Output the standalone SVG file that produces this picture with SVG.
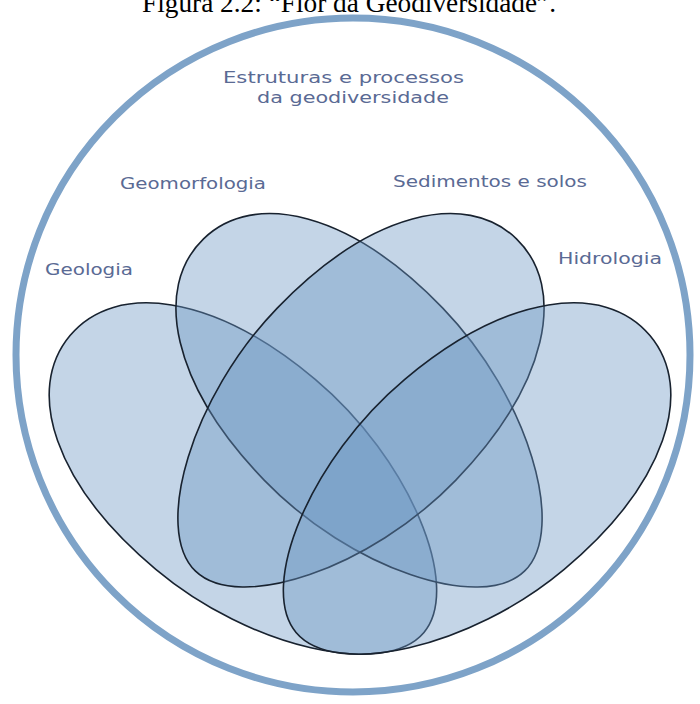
<svg xmlns="http://www.w3.org/2000/svg" xmlns:xlink="http://www.w3.org/1999/xlink" width="700" height="704" viewBox="0 0 700 704">
  <style>
    .petal { fill: #6b97c4; fill-opacity: 0.4; stroke: #18222f; stroke-width: 1.6; }
    .lbl { font-family: "DejaVu Sans", Verdana, sans-serif; font-size: 15px; fill: #5a6a94; }
    .title { font-family: "Liberation Serif", "Times New Roman", serif; font-size: 27px; fill: #000; }
  </style>
  <defs>
    <path id="egg" d="M -231,0 C -231,-71 -148,-124 -15,-124 C 108,-124 231,-60 231,0 C 231,60 108,124 -15,124 C -148,124 -231,71 -231,0 Z"/>
  </defs>
  <rect width="700" height="704" fill="#ffffff"/>
  <g id="ring">
    <circle cx="353" cy="355" r="337" fill="none" stroke="#7ea3c8" stroke-width="7"/>
  </g>
  <g id="title">
    <text class="title" x="142" y="12" textLength="414" lengthAdjust="spacingAndGlyphs">Figura 2.2: “Flor da Geodiversidade”.</text>
  </g>
  <g id="heading">
    <text class="lbl" x="223" y="83" textLength="241" lengthAdjust="spacingAndGlyphs">Estruturas e processos</text>
    <text class="lbl" x="257" y="103" textLength="192" lengthAdjust="spacingAndGlyphs">da geodiversidade</text>
  </g>
  <g id="geologia">
    <use xlink:href="#egg" class="petal" transform="translate(247,484) rotate(40)"/>
    <text class="lbl" x="45" y="275" textLength="88" lengthAdjust="spacingAndGlyphs">Geologia</text>
  </g>
  <g id="geomorfologia">
    <use xlink:href="#egg" class="petal" transform="translate(364,405) rotate(46)"/>
    <text class="lbl" x="120" y="189" textLength="146" lengthAdjust="spacingAndGlyphs">Geomorfologia</text>
  </g>
  <g id="sedimentos">
    <use xlink:href="#egg" class="petal" transform="translate(356,405) rotate(134)"/>
    <text class="lbl" x="393" y="187" textLength="194" lengthAdjust="spacingAndGlyphs">Sedimentos e solos</text>
  </g>
  <g id="hidrologia">
    <use xlink:href="#egg" class="petal" transform="translate(473,484) rotate(140)"/>
    <text class="lbl" x="558" y="264" textLength="104" lengthAdjust="spacingAndGlyphs">Hidrologia</text>
  </g>
  <g id="connectors"/>
</svg>
